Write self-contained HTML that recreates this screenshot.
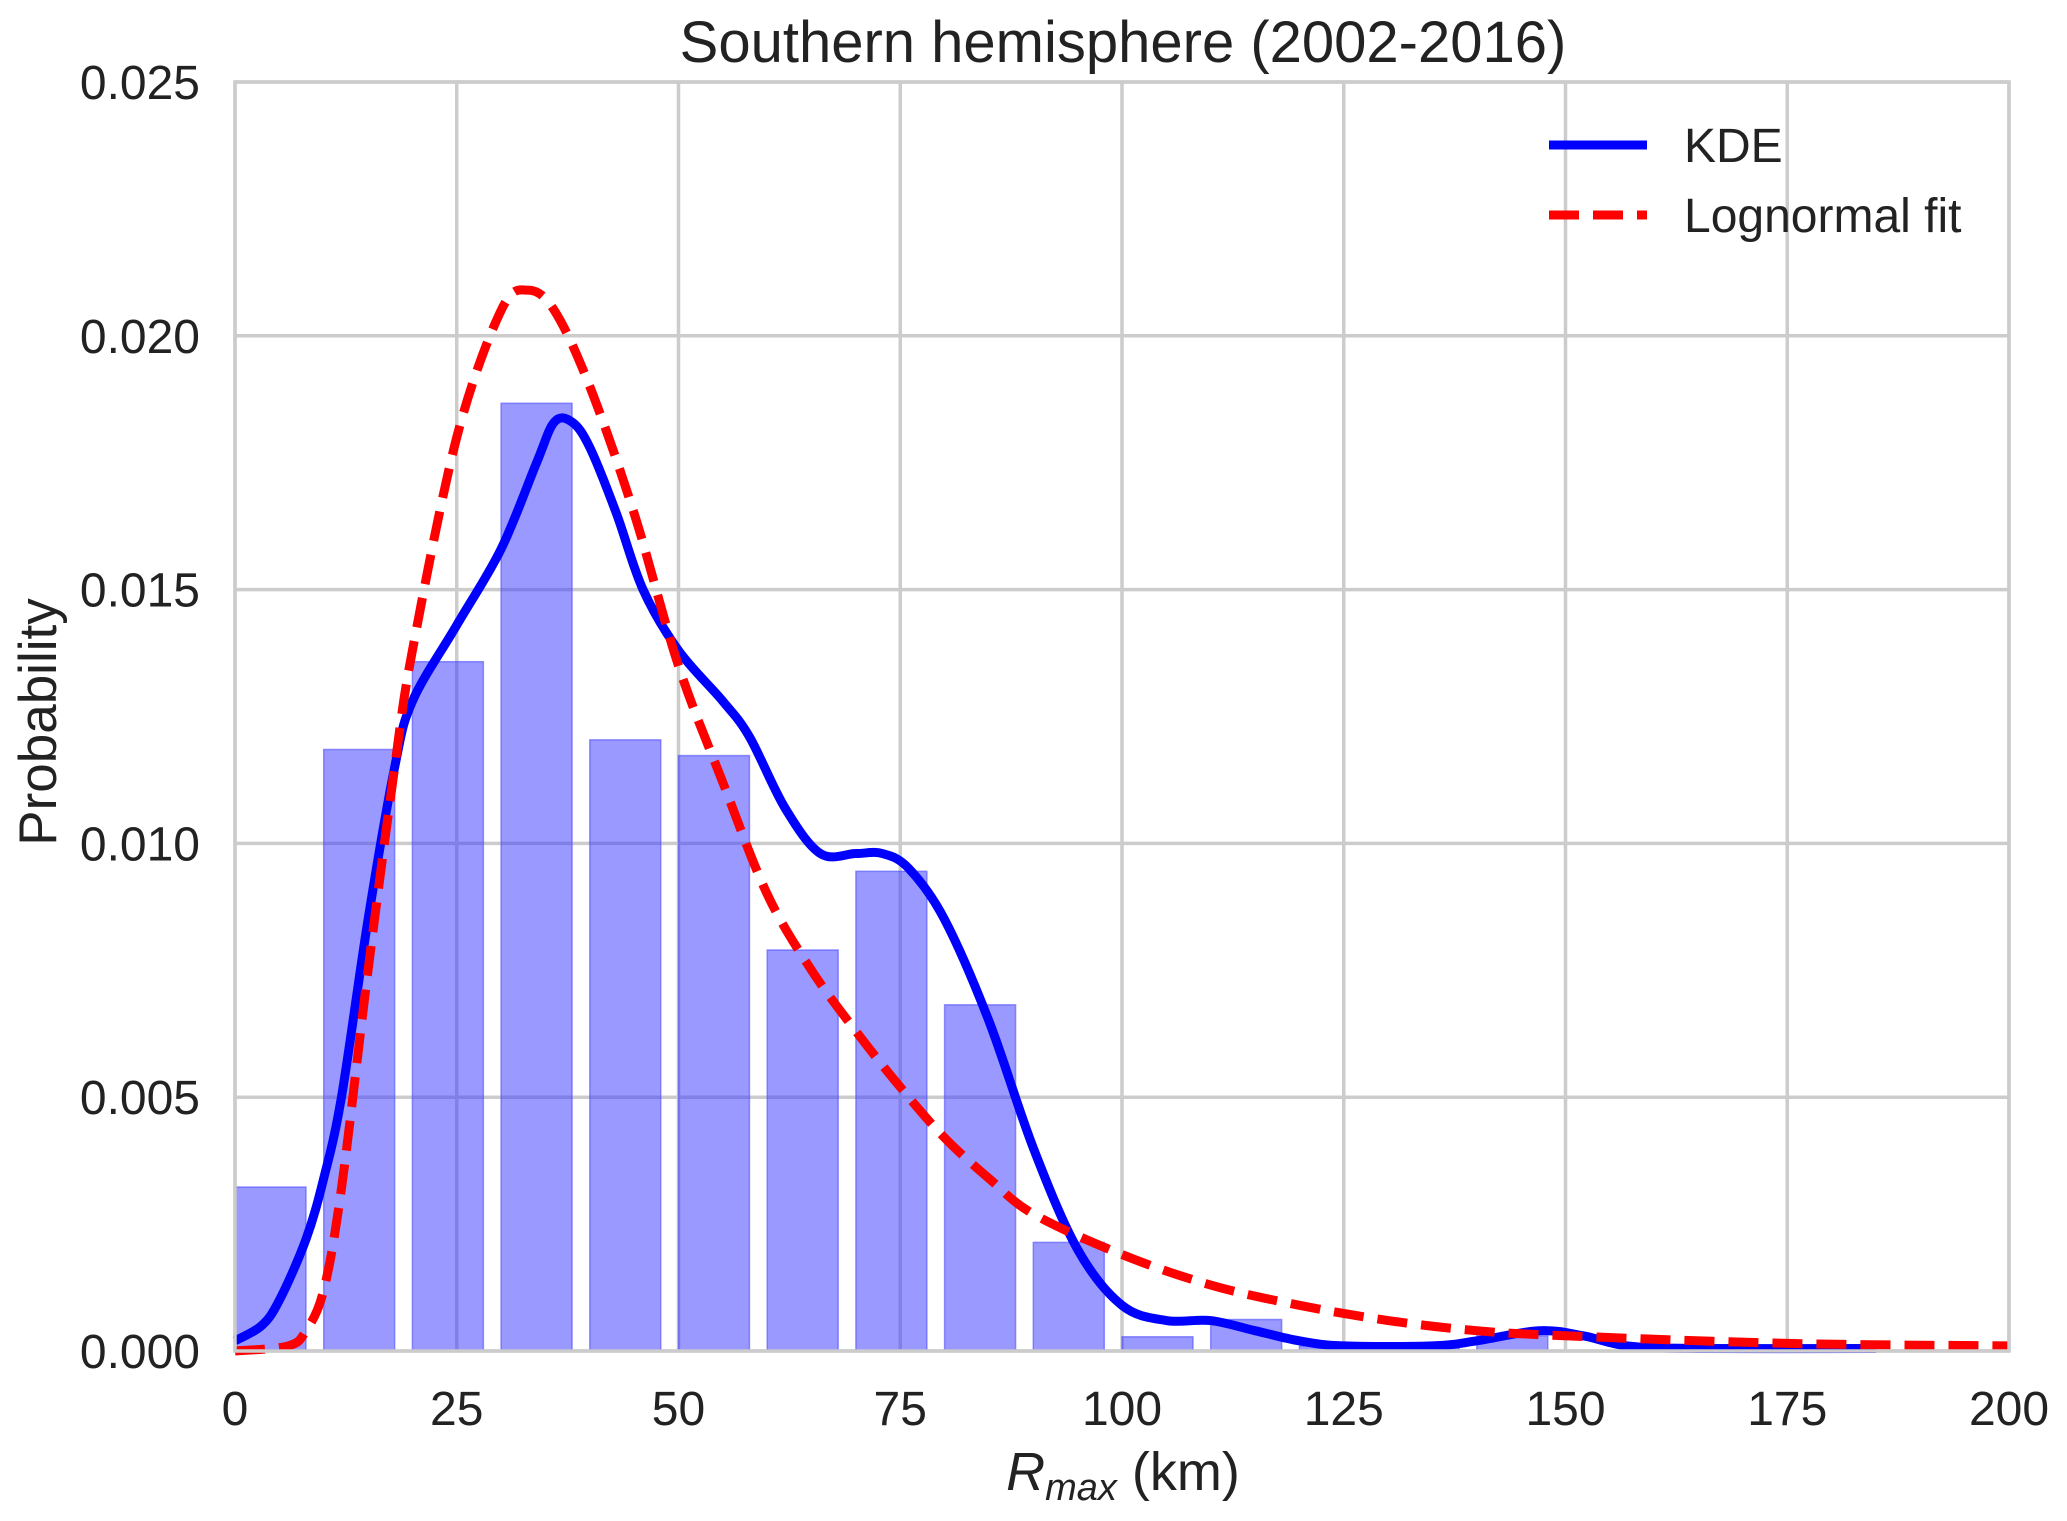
<!DOCTYPE html>
<html><head><meta charset="utf-8"><style>
body{margin:0;background:#fff}
svg{display:block;font-family:"Liberation Sans",sans-serif}
</style></head><body>
<svg id="chart" width="2067" height="1521" viewBox="0 0 2067 1521">
<g id="grid"></g>
<g id="bars"></g>
<g id="lines"></g>
<g id="axes"></g>
<text x="1123" y="62" font-size="58" text-anchor="middle" fill="#222">Southern hemisphere (2002-2016)</text>
<text transform="translate(56,722) rotate(-90)" font-size="53" text-anchor="middle" fill="#222">Probability</text>
<text x="1123" y="1490" font-size="54" text-anchor="middle" fill="#222"><tspan font-style="italic">R</tspan><tspan font-style="italic" font-size="38" dy="10">max</tspan><tspan dy="-10"> (km)</tspan></text>
<g>
<line x1="1549" y1="145" x2="1647" y2="145" stroke="#0000ff" stroke-width="9"/>
<text x="1684" y="162" font-size="48" fill="#222">KDE</text>
<line x1="1549" y1="215" x2="1647" y2="215" stroke="#ff0000" stroke-width="9" stroke-dasharray="30,14"/>
<text x="1684" y="232" font-size="48" fill="#222">Lognormal fit</text>
</g>
</svg>
<script>
const binStarts=[0,10,20,30,40,50,60,70,80,90,100,110,120,130,140];
const binHeights=[0.00323,0.01185,0.01358,0.01867,0.01204,0.01173,0.0079,0.00945,0.00682,0.00214,0.00028,0.00062,0.0001,0.0001,0.0003];
const kdeX=[0,3,5,8,10,12,15,18,20,25,30,34,36,38,40,43,46,50,55,58,62,66,70,73,76,80,85,90,95,100,105,110,115,120,125,135,140,147,152,157,165,185];
const kdeY=[0.0002,0.0005,0.001,0.0022,0.0034,0.005,0.0085,0.0115,0.0128,0.0143,0.0158,0.0175,0.0183,0.0183,0.0178,0.0165,0.015,0.0138,0.0128,0.0121,0.0107,0.0098,0.0098,0.0098,0.0095,0.0085,0.0065,0.004,0.002,0.0009,0.0006,0.0006,0.0004,0.0002,0.0001,0.0001,0.0002,0.0004,0.0003,0.0001,0.00005,0.00005];
const lnX=[0,6,8,10,12,15,18,20,25,30,33,36,40,45,50,55,60,65,70,75,80,85,90,100,110,120,130,140,150,175,200];
const lnY=[0,0.0001,0.0004,0.0012,0.0032,0.0075,0.0115,0.0138,0.018,0.0205,0.0209,0.0205,0.019,0.0165,0.0135,0.0112,0.009,0.0075,0.0063,0.0052,0.0042,0.0034,0.0027,0.0019,0.0013,0.0009,0.0006,0.0004,0.0003,0.00015,0.0001];
const xTicks=[0,25,50,75,100,125,150,175,200];
const yTicks=[0,0.005,0.01,0.015,0.02,0.025];
const yTickLabels=["0.000","0.005","0.010","0.015","0.020","0.025"];
const binWidth=10, barFrac=0.8;
const L=235,R=2009,T=82,B=1351;
const sx=v=>L+(v-0)/(200-0)*(R-L);
const sy=v=>B-(v-0)/(0.025-0)*(B-T);
const NS="http://www.w3.org/2000/svg";
function mk(tag,attrs,parent){const e=document.createElementNS(NS,tag);for(const k in attrs)e.setAttribute(k,attrs[k]);parent.appendChild(e);return e;}
const grid=document.getElementById('grid'),bars=document.getElementById('bars'),lines=document.getElementById('lines'),axes=document.getElementById('axes');
xTicks.forEach((t,i)=>{
  const g=mk('line',{x1:sx(t),x2:sx(t),y1:T,y2:B,stroke:'#cccccc','stroke-width':3.5},grid);
  
  
  const tx=mk('text',{x:sx(t),y:B+74,'font-size':48,'text-anchor':'middle',fill:'#222'},axes);
  tx.textContent=String(t);
  
  
});
yTicks.forEach((t,i)=>{
  const g=mk('line',{x1:L,x2:R,y1:sy(t),y2:sy(t),stroke:'#cccccc','stroke-width':3.5},grid);
  
  
  const tx=mk('text',{x:L-35,y:sy(t)+17,'font-size':48,'text-anchor':'end',fill:'#222'},axes);
  tx.textContent=yTickLabels[i];
  
  
});
const frame=mk('rect',{x:L,y:T,width:R-L,height:B-T,fill:'none',stroke:'#cccccc','stroke-width':3.5},axes);


binStarts.forEach((s,i)=>{
  const x0=sx(s),x1=sx(s+binWidth*barFrac),y=sy(binHeights[i]);
  const r=mk('rect',{x:x0,y:y,width:x1-x0,height:B-y,fill:'rgba(51,51,255,0.5)',stroke:'rgba(80,80,255,0.6)','stroke-width':1.5},bars);
  
  
});
function pathFrom(xs,ys){
  const p=xs.map((x,i)=>[sx(x),sy(ys[i])]);
  let d='M'+p[0][0]+','+p[0][1];
  for(let i=0;i<p.length-1;i++){
    const p0=p[Math.max(0,i-1)],p1=p[i],p2=p[i+1],p3=p[Math.min(p.length-1,i+2)];
    const c1=[p1[0]+(p2[0]-p0[0])/6,p1[1]+(p2[1]-p0[1])/6],c2=[p2[0]-(p3[0]-p1[0])/6,p2[1]-(p3[1]-p1[1])/6];
    d+=' C'+c1+' '+c2+' '+p2;
  }
  return d;
}
const kde=mk('path',{d:pathFrom(kdeX,kdeY),fill:'none',stroke:'#0000ff','stroke-width':9,'stroke-linejoin':'round'},lines);


const ln=mk('path',{d:pathFrom(lnX,lnY),fill:'none',stroke:'#ff0000','stroke-width':9,'stroke-dasharray':'30,14'},lines);


</script>
</body></html>
